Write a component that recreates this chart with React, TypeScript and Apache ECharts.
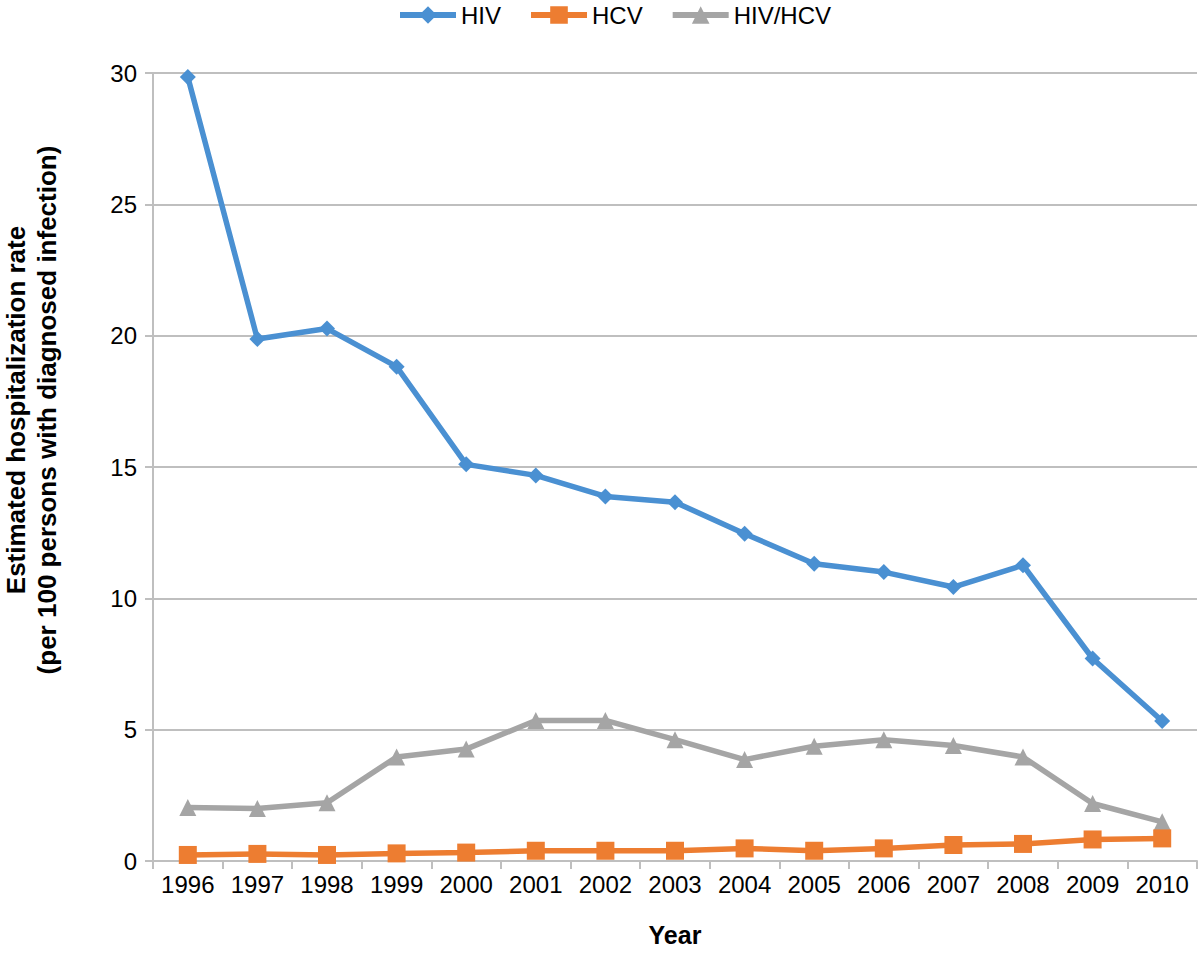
import React, { useEffect, useRef } from "react";
import * as echarts from "echarts";

const years = ["1996","1997","1998","1999","2000","2001","2002","2003","2004","2005","2006","2007","2008","2009","2010"];
const hiv = [29.85, 19.87, 20.27, 18.82, 15.1, 14.68, 13.88, 13.66, 12.46, 11.32, 11.0, 10.43, 11.26, 7.71, 5.33];
const hcv = [0.23, 0.27, 0.23, 0.29, 0.32, 0.39, 0.39, 0.39, 0.48, 0.39, 0.48, 0.61, 0.65, 0.82, 0.86];
const hivHcv = [2.04, 2.0, 2.22, 3.96, 4.26, 5.35, 5.35, 4.62, 3.86, 4.37, 4.62, 4.4, 3.96, 2.19, 1.49];
const yTicks = [0, 5, 10, 15, 20, 25, 30];
const yTitle = "Estimated hospitalization rate\n(per 100 persons with diagnosed infection)";

const FONT = "'Liberation Sans', Arial, sans-serif";

export default function App() {
  const ref = useRef<HTMLDivElement>(null);
  useEffect(() => {
    if (!ref.current) return;
    const chart = echarts.init(ref.current, null, { renderer: "svg" });
    const mk = (name: string, data: number[], color: string, symbol: string, size: number, z: number) => ({
      name,
      type: "line",
      data,
      symbol,
      symbolSize: size,
      lineStyle: { color, width: 5.5 },
      itemStyle: { color },
      z,
    });
    chart.setOption({
      animation: false,
      textStyle: { fontFamily: FONT },
      legend: {
        top: -2,
        left: 392,
        itemWidth: 56,
        itemHeight: 22,
        itemGap: 27,
        lineStyle: { width: 6 },
        textStyle: { fontSize: 24, color: "#000", fontFamily: FONT },
        data: ["HIV", "HCV", "HIV/HCV"],
      },
      grid: { left: 153, right: 3, top: 73, bottom: 93 },
      graphic: [
        {
          type: "text",
          x: 31,
          y: 410,
          rotation: Math.PI / 2,
          style: {
            text: yTitle,
            font: "bold 26px 'Liberation Sans', Arial, sans-serif",
            fill: "#000",
            align: "center",
            verticalAlign: "middle",
            lineHeight: 31,
          },
        },
      ],
      xAxis: {
        type: "category",
        data: years,
        boundaryGap: true,
        name: "Year",
        nameLocation: "middle",
        nameGap: 61,
        nameTextStyle: { fontSize: 25, fontWeight: "bold", color: "#000", fontFamily: FONT },
        axisLine: { lineStyle: { color: "#bfbfbf", width: 2 } },
        axisTick: { show: true, length: 8, lineStyle: { color: "#bfbfbf", width: 2 } },
        axisLabel: { fontSize: 24, color: "#000", margin: 11, fontFamily: FONT },
      },
      yAxis: {
        type: "value",
        min: yTicks[0],
        max: yTicks[yTicks.length - 1],
        interval: 5,
        axisLine: { show: true, lineStyle: { color: "#bfbfbf", width: 2 } },
        axisTick: { show: true, length: 8, lineStyle: { color: "#bfbfbf", width: 2 } },
        axisLabel: { fontSize: 24, color: "#000", margin: 16, fontFamily: FONT },
        splitLine: { lineStyle: { color: "#bfbfbf", width: 2 } },
      },
      series: [
        mk("HIV", hiv, "#4a90d2", "diamond", 16, 3),
        mk("HCV", hcv, "#ed7d31", "rect", 18, 4),
        mk("HIV/HCV", hivHcv, "#a5a5a5", "triangle", 17, 2),
      ],
    });
    return () => chart.dispose();
  }, []);
  return <div ref={ref} style={{ width: 1200, height: 954, position: "absolute", left: 0, top: 0 }} />;
}
